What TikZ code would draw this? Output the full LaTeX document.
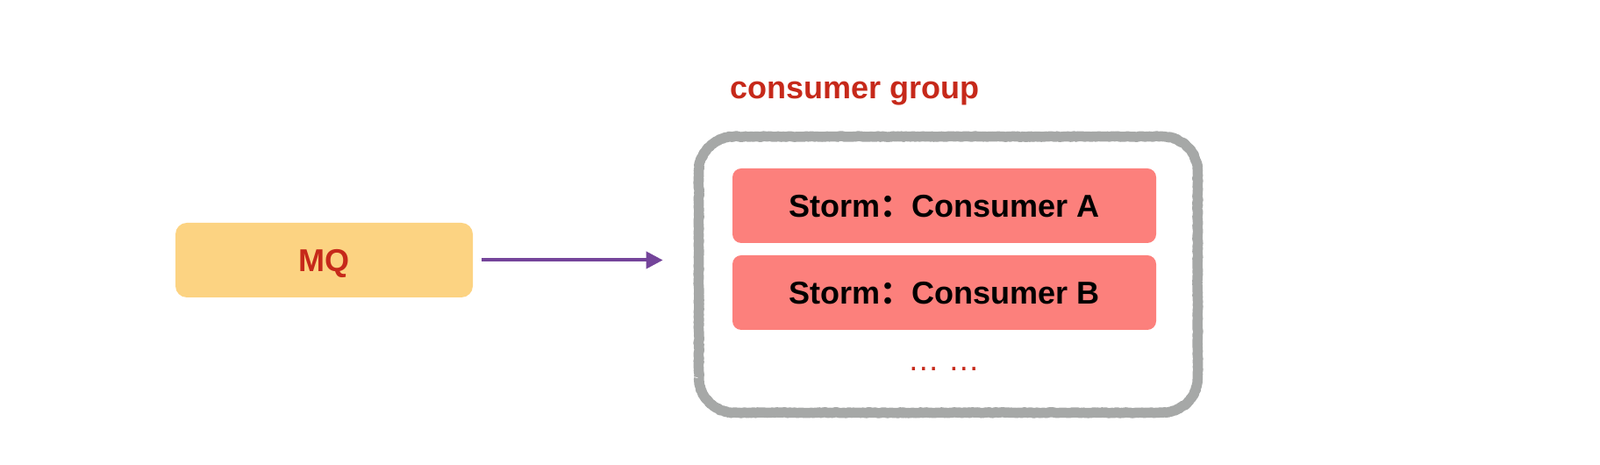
\documentclass[tikz,border=0pt]{standalone}
\usepackage{fontspec}
\setmainfont{Liberation Sans}
\newfontfamily\cjk{Noto Sans CJK SC}
\usepackage{tikz}
\usetikzlibrary{decorations.pathmorphing}
\usetikzlibrary{arrows.meta}
\usetikzlibrary{positioning}
\definecolor{mqyellow}{HTML}{FCD382}
\definecolor{stormred}{HTML}{FC807C}
\definecolor{labelred}{HTML}{C6291A}
\definecolor{pencil}{HTML}{A6A8A7}
\definecolor{flowpurple}{HTML}{74449A}
\newcommand{\bigtext}{\fontsize{20.5}{24}\selectfont}
\tikzstyle{mqbox}=[rectangle,rounded corners=0.26cm,fill=mqyellow,minimum width=6.78cm,minimum height=1.7cm,inner sep=0pt,text depth=0pt,font=\bigtext\bfseries,text=labelred]
\tikzstyle{stormbox}=[rectangle,rounded corners=0.2cm,fill=stormred,minimum width=9.66cm,minimum height=1.7cm,inner sep=0pt,text depth=0pt,font=\bigtext]
\tikzstyle{groupbox}=[rectangle,minimum width=11.36cm,minimum height=6.28cm,inner sep=0pt]
\tikzstyle{rough}=[draw=pencil,line width=0.23cm,line join=round,decorate,decoration={random steps,segment length=1pt,amplitude=0.3pt}]
\tikzstyle{flow}=[draw=flowpurple,line width=0.08cm,-{Triangle[length=0.38cm,width=0.38cm]}]

\begin{document}
\begin{tikzpicture}
      \useasboundingbox (0,0) rectangle (36.48,10.6);
      \node [mqbox] (mq) at (7.39,4.67) {MQ};
      \node [groupbox] (grp) at (21.62,4.34) {};
      % pencil border, corners drawn as arcs
      \draw [rough] ([yshift=0.8cm]grp.south west) -- ([yshift=-0.8cm]grp.north west)
            arc [start angle=180, end angle=90, radius=0.8cm] -- ([xshift=-0.8cm]grp.north east)
            arc [start angle=90, end angle=0, radius=0.8cm] -- ([yshift=0.8cm]grp.south east)
            arc [start angle=0, end angle=-90, radius=0.8cm] -- ([xshift=0.8cm]grp.south west)
            arc [start angle=270, end angle=180, radius=0.8cm] -- cycle;
      \node [anchor=base west, font=\bigtext\bfseries, text=labelred, inner sep=0pt] (grplabel) at (16.64,8.34) {consumer group};
      \node [stormbox] (ca) at (21.53,5.91) {\bfseries Storm{\cjk ：}Consumer A};
      \node [stormbox] (cb) at (21.53,3.93) {\bfseries Storm{\cjk ：}Consumer B};
      \node [anchor=base, font=\bigtext, text=labelred, inner sep=0pt] (more) at (21.52,2.14) {… …};
      \path [flow, shorten <=0.2cm, shorten >=0.82cm] (mq.east) -- (mq.east -| grp.west);
\end{tikzpicture}
\end{document}
